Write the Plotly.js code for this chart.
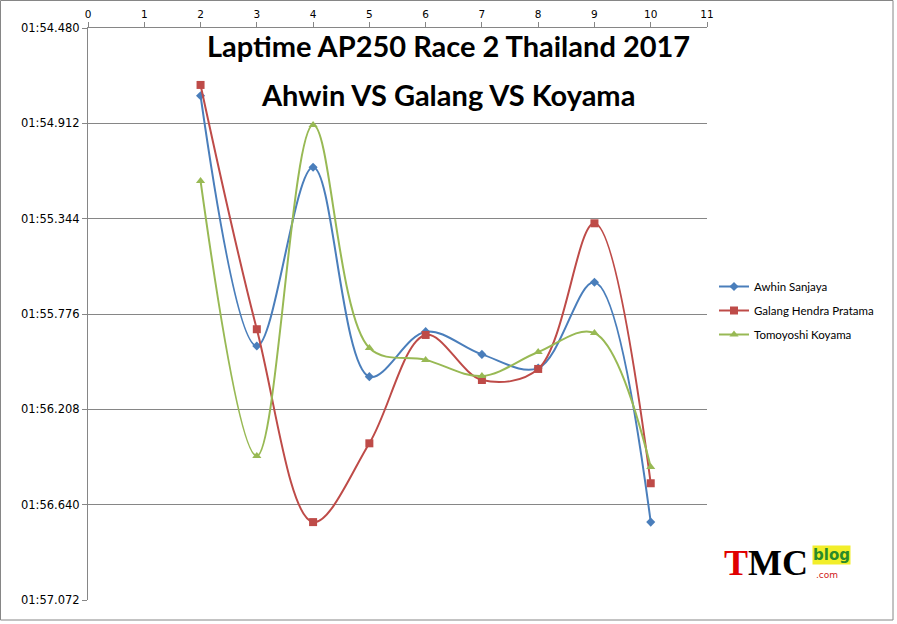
<!DOCTYPE html>
<html>
<head>
<meta charset="utf-8">
<script src="https://cdn.plot.ly/plotly-3.0.1.min.js"></script>
<style>html,body{margin:0;padding:0;background:#fff;}#chart{width:897px;height:624px;}</style>
</head>
<body>
<div id="chart"></div>
<script>
// Lap numbers
var laps = [2, 3, 4, 5, 6, 7, 8, 9, 10];
// Lap times in seconds (1:54.787 -> 114.787)
var awhin  = [114.787, 115.921, 115.111, 116.060, 115.856, 115.959, 116.021, 115.632, 116.719];
var galang = [114.738, 115.845, 116.719, 116.362, 115.871, 116.075, 116.025, 115.365, 116.543];
var koyama = [115.173, 116.419, 114.920, 115.930, 115.984, 116.057, 115.948, 115.862, 116.469];
var seriesNames = ["Awhin Sanjaya", "Galang Hendra Pratama", "Tomoyoshi Koyama"];
var yTickVals = [114.480, 114.912, 115.344, 115.776, 116.208, 116.640, 117.072];
var yTickText = ["01:54.480", "01:54.912", "01:55.344", "01:55.776", "01:56.208", "01:56.640", "01:57.072"];
var xTickVals = [0, 1, 2, 3, 4, 5, 6, 7, 8, 9, 10, 11];
var titleLines = ["Laptime AP250 Race 2 Thailand 2017", "Ahwin VS Galang VS Koyama"];

var colors = ["#4A7EBB", "#BE4B48", "#98B954"];
var symbols = ["diamond", "square", "triangle-up"];
var sizes = [7, 8, 8];
var data = [awhin, galang, koyama].map(function (ys, i) {
  return {
    x: laps, y: ys, name: seriesNames[i], type: "scatter", mode: "lines+markers",
    legendgroup: "g" + i,
    line: {color: colors[i], width: 2, shape: "spline", smoothing: 1},
    marker: {color: colors[i], symbol: symbols[i], size: sizes[i]}
  };
});

var L = 88, R = 707, T = 28, B = 600, W = 897, H = 624;
function px(p) { return (p - L) / (R - L); }
function py(p) { return (B - p) / (B - T); }

var layout = {
  width: W, height: H,
  margin: {l: L, r: W - R, t: T, b: H - B, pad: 0},
  paper_bgcolor: "#fff", plot_bgcolor: "#fff",
  font: {family: "DejaVu Sans, sans-serif", size: 10, color: "#000"},
  showlegend: true,
  legend: {x: px(714), y: py(272), xanchor: "left", yanchor: "top",
           font: {family: "Lato, sans-serif", size: 11.5, color: "#000"},
           tracegroupgap: 5, itemwidth: 30, bgcolor: "rgba(0,0,0,0)"},
  xaxis: {
    range: [0, 11], side: "top", tickvals: xTickVals, ticks: "outside", ticklen: 5,
    tickcolor: "#868686", showline: true, linecolor: "#868686", linewidth: 1,
    showgrid: false, zeroline: false, tickfont: {size: 10.5}, fixedrange: true
  },
  yaxis: {
    range: [117.072, 114.480], tickvals: yTickVals, ticktext: yTickText,
    ticks: "outside", ticklen: 5, tickcolor: "#868686",
    showline: true, linecolor: "#868686", linewidth: 1,
    showgrid: true, gridcolor: "#868686", gridwidth: 1, zeroline: false,
    tickfont: {size: 11.5}, fixedrange: true
  },
  annotations: [
    {text: "<b>" + titleLines[0] + "</b>", xref: "paper", yref: "paper",
     x: px(448), y: py(46), xanchor: "center", yanchor: "middle", showarrow: false,
     font: {family: "Lato, sans-serif", size: 29, color: "#000"}},
    {text: "<b>" + titleLines[1] + "</b>", xref: "paper", yref: "paper",
     x: px(448), y: py(94), xanchor: "center", yanchor: "middle", showarrow: false,
     font: {family: "Lato, sans-serif", size: 29, color: "#000"}},
    {text: "<b><span style='color:#e00000'>T</span>MC</b>", xref: "paper", yref: "paper",
     x: px(722), y: py(563), xanchor: "left", yanchor: "middle", showarrow: false,
     font: {family: "Liberation Serif, serif", size: 36, color: "#000"}},
    {text: "<b>blog</b>", xref: "paper", yref: "paper",
     x: px(812), y: py(555), xanchor: "left", yanchor: "middle", showarrow: false,
     bgcolor: "#f2ee2a", borderpad: 0,
     font: {family: "DejaVu Sans, sans-serif", size: 15, color: "#2a8a2a"}},
    {text: ".com", xref: "paper", yref: "paper",
     x: px(814), y: py(575), xanchor: "left", yanchor: "middle", showarrow: false,
     font: {family: "DejaVu Sans, sans-serif", size: 9, color: "#d02020"}}
  ],
  shapes: [
    {type: "rect", xref: "paper", yref: "paper", x0: px(0.5), x1: px(893), y0: py(620), y1: py(0.5),
     line: {color: "#868686", width: 1}, fillcolor: "rgba(0,0,0,0)", layer: "below"}
  ]
};

Plotly.newPlot("chart", data, layout, {displayModeBar: false, staticPlot: true});
</script>
</body>
</html>
